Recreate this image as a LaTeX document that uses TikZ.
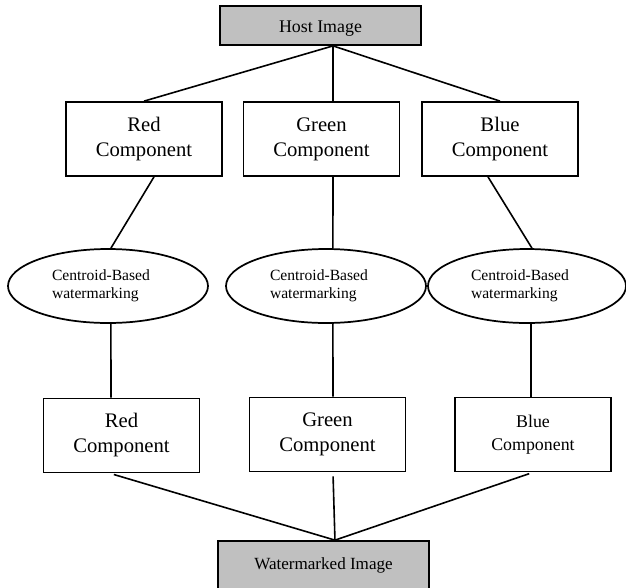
\documentclass[tikz,border=0pt]{standalone}
\usepackage{fontspec}
\setmainfont{Liberation Serif}
\usepackage{xcolor}
\usetikzlibrary{shapes.geometric, positioning}
\definecolor{imggray}{HTML}{C0C0C0}

\begin{document}
\begin{tikzpicture}[x=0.75pt, y=-0.75pt,
    comp/.style={draw, line width=1.3pt, minimum width=117pt, minimum height=55.5pt,
      inner sep=0pt, align=center, font=\fontsize{15.5}{18.75}\selectfont},
    imgbox/.style={draw, line width=1.3pt, fill=imggray, inner sep=0pt},
    wmark/.style={draw, ellipse, line width=1.3pt, minimum width=150pt, minimum height=55.5pt,
      inner sep=0pt, text width=84pt, align=left, font=\fontsize{11.7}{13.5}\selectfont},
    link/.style={line width=1.2pt}]
  \useasboundingbox (0,0) rectangle (626,587);
  % ---- source image and its three planes ----
  \node[imgbox, minimum width=150.75pt, minimum height=29.25pt, text height=9pt, text depth=3pt,
    font=\fontsize{13.4}{16}\selectfont] (host) at (320.5,25.5) {\raisebox{-2.6pt}{Host Image}};
  \node[comp] (redin)   at (144,139)   {Red\\Component};
  \node[comp] (greenin) at (321.5,139) {Green\\Component};
  \node[comp] (bluein)  at (500,139)   {Blue\\Component};
  % ---- embedding step ----
  \node[wmark] (wmred)   at (108,286) {Centroid-Based\\watermarking};
  \node[wmark] (wmgreen) at (326,286) {Centroid-Based\\watermarking};
  \node[wmark, minimum width=148.5pt] (wmblue) at (527,286) {Centroid-Based\\watermarking};
  % ---- marked planes and result ----
  \node[comp] (redout)   at (121.5,435.5) {Red\\Component};
  \node[comp] (greenout) at (327.5,434.5) {Green\\Component};
  \node[comp, font=\fontsize{13.4}{17.25}\selectfont] (blueout) at (533,434.5) {Blue\\Component};
  \node[imgbox, minimum width=158.25pt, minimum height=36pt,
    font=\fontsize{12.8}{15}\selectfont] (water) at (323.5,565) {Watermarked Image};

  \draw[link] ([xshift=9.4pt]host.south) -- (redin.north);
  \draw[link] ([xshift=9.4pt]host.south) -- ([xshift=8.6pt]greenin.north);
  \draw[link] ([xshift=9.4pt]host.south) -- (bluein.north);
  \draw[link] ([xshift=7.5pt]redin.south) -- ([xshift=2.2pt]wmred.north);
  \draw[link] ([xshift=8.6pt]greenin.south) -- ([xshift=5.2pt]wmgreen.north);
  \draw[link] ([xshift=-9pt]bluein.south) -- ([xshift=3.7pt]wmblue.north);
  \draw[link] ([xshift=2.2pt]wmred.south) -- ([xshift=-7.9pt]redout.north);
  \draw[link] ([xshift=5.2pt]wmgreen.south) -- ([xshift=4.1pt]greenout.north);
  \draw[link] ([xshift=3pt]wmblue.south) -- ([xshift=-1.5pt]blueout.north);
  \draw[link, shorten <=3pt] ([xshift=-8.6pt]redout.south) -- ([xshift=8.6pt]water.north);
  \draw[link, shorten <=3pt] ([xshift=4.1pt]greenout.south) -- ([xshift=8.6pt]water.north);
  \draw[link, shorten <=3pt] (blueout.south) -- ([xshift=8.6pt]water.north);
\end{tikzpicture}
\end{document}
